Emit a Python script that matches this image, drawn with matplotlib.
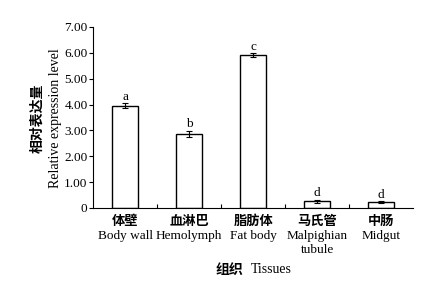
import matplotlib
matplotlib.use("Agg")
import numpy as np
import matplotlib.pyplot as plt

tissues_cn = ['体壁', '血淋巴', '脂肪体', '马氏管', '中肠']
tissues_en = ['Body wall', 'Hemolymph', 'Fat body', 'Malpighian\ntubule', 'Midgut']
expression = [3.95, 2.87, 5.92, 0.26, 0.23]
errors = [0.09, 0.12, 0.07, 0.06, 0.03]
letters = ['a', 'b', 'c', 'd', 'd']
yticks = [0, 1, 2, 3, 4, 5, 6, 7]
ytick_labels = ['0', '1.00', '2.00', '3.00', '4.00', '5.00', '6.00', '7.00']

serif = 'Liberation Serif'
cjk = 'Noto Sans CJK SC'

fig = plt.figure(figsize=(4.29, 2.81), dpi=100)
ax = fig.add_axes([0.217, 0.26, 0.746, 0.644])

x = np.arange(len(expression))
ax.bar(x, expression, width=0.41, color='white', edgecolor='black', linewidth=1.0)
ax.errorbar(x, expression, yerr=errors, fmt='none', ecolor='black',
            elinewidth=0.8, capsize=2.5, capthick=0.8)
for xi, v, e, l in zip(x, expression, errors, letters):
    ax.text(xi, v + e + 0.02, l, ha='center', va='bottom', fontsize=9.5, family=serif)

ax.set_xlim(-0.5, len(expression) - 0.5)
ax.set_ylim(0, 7)
ax.set_yticks(yticks)
ax.set_yticklabels(ytick_labels, fontsize=9.5, family=serif)
ax.tick_params(axis='y', direction='out', length=3, width=0.8, pad=1)
ax.set_xticks(x[:-1] + 0.5)
ax.set_xticklabels([])
ax.tick_params(axis='x', direction='in', length=3, width=0.8)
ax.spines['top'].set_visible(False)
ax.spines['right'].set_visible(False)
for s in ['left', 'bottom']:
    ax.spines[s].set_linewidth(0.8)

trans = ax.get_xaxis_transform()
for xi, cn, en in zip(x, tissues_cn, tissues_en):
    ax.text(xi, -0.035, cn, transform=trans, ha='center', va='top',
            fontsize=9.5, family=cjk, weight='bold')
    ax.text(xi, -0.12, en, transform=trans, ha='center', va='top',
            fontsize=9.5, family=serif, linespacing=1.3)

fig.text(0.568, 0.04, '组织', ha='right', va='center', fontsize=10, family=cjk, weight='bold')
fig.text(0.585, 0.04, 'Tissues', ha='left', va='center', fontsize=10, family=serif)

fig.text(0.088, 0.58, '相对表达量', rotation=90, ha='center', va='center',
         fontsize=10, family=cjk, weight='bold')
fig.text(0.13, 0.58, 'Relative expression level', rotation=90, ha='center', va='center',
         fontsize=10, family=serif)

fig.savefig('out.png', dpi=100)
